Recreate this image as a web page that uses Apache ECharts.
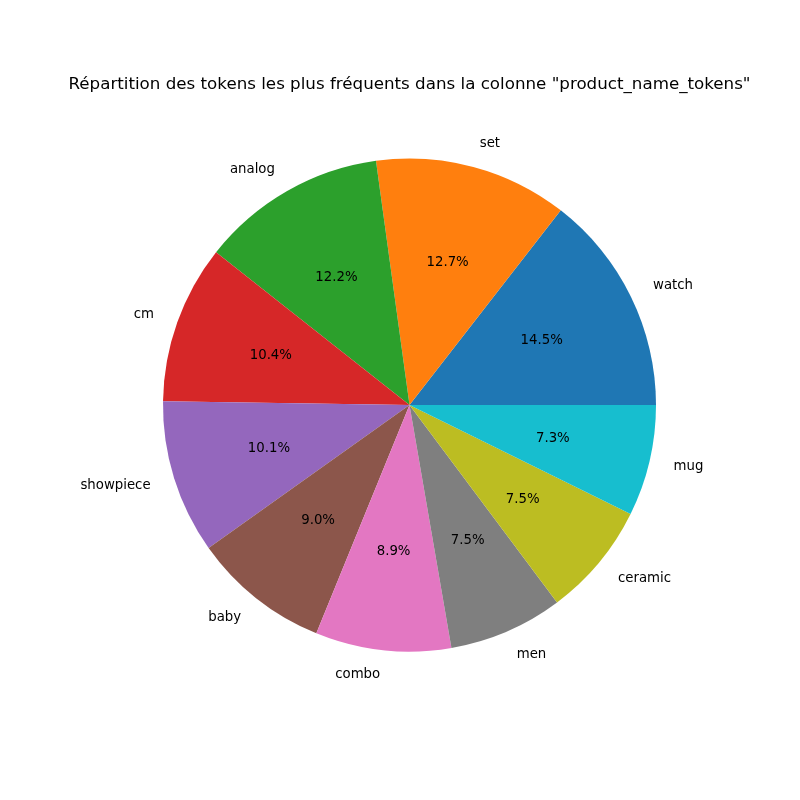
<!DOCTYPE html>
<html>
<head>
<meta charset="utf-8">
<script src="https://cdn.jsdelivr.net/npm/echarts@6/dist/echarts.min.js"></script>
<style>html,body{margin:0;padding:0;background:#fff}#c{width:800px;height:800px}</style>
</head>
<body>
<div id="c"></div>
<script>
const categories = ["watch","set","analog","cm","showpiece","baby","combo","men","ceramic","mug"];
const values = [14.5, 12.7, 12.2, 10.4, 10.1, 9.0, 8.9, 7.5, 7.5, 7.3];
const colors = ["#1f77b4","#ff7f0e","#2ca02c","#d62728","#9467bd","#8c564b","#e377c2","#7f7f7f","#bcbd22","#17becf"];
const titleText = 'Répartition des tokens les plus fréquents dans la colonne "product_name_tokens"';

const R = 246.5;
const center = [409.5, 405];
const font = 'DejaVu Sans';
const data = categories.map((n, i) => ({name: n, value: values[i], itemStyle: {color: colors[i]}}));
const total = values.reduce((a, b) => a + b, 0);

const chart = echarts.init(document.getElementById('c'), null, {renderer: 'canvas'});
chart.setOption({
  animation: false,
  title: {
    text: titleText, left: 404.5, textAlign: 'center', top: 71,
    textStyle: {fontFamily: font, fontSize: 16.7, fontWeight: 'normal', color: '#000'}
  },
  series: [
    {
      type: 'pie', center: center, radius: [0, R], startAngle: 0, clockwise: false,
      avoidLabelOverlap: false, silent: true,
      itemStyle: {borderWidth: 0},
      label: {
        show: true, position: 'outside', formatter: '{b}', color: '#000',
        fontFamily: font, fontSize: 13.3, distanceToLabelLine: 0, alignTo: 'none'
      },
      labelLine: {show: false, length: R * 0.1, length2: 0},
      emphasis: {disabled: true},
      data: data
    },
    {
      type: 'pie', center: center, radius: [0, R * 1.17], startAngle: 0, clockwise: false,
      avoidLabelOverlap: false, silent: true, z: 3,
      itemStyle: {color: 'rgba(0,0,0,0)', borderWidth: 0},
      label: {
        show: true, position: 'inside', color: '#000', fontFamily: font, fontSize: 13.3,
        formatter: p => (p.value / total * 100).toFixed(1) + '%'
      },
      labelLine: {show: false},
      emphasis: {disabled: true},
      data: categories.map((n, i) => ({name: n, value: values[i]}))
    }
  ]
});
</script>
</body>
</html>
